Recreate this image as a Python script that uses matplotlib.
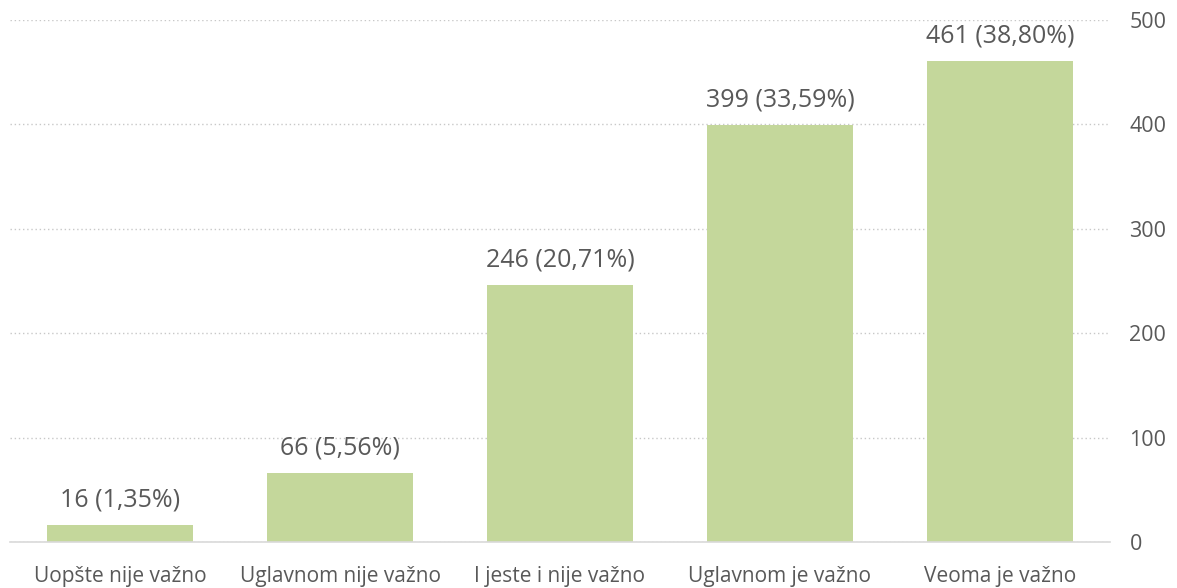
import matplotlib
matplotlib.use('Agg')
import matplotlib.pyplot as plt

categories = ['Uopšte nije važno', 'Uglavnom nije važno', 'I jeste i nije važno',
              'Uglavnom je važno', 'Veoma je važno']
counts = [16, 66, 246, 399, 461]
percents = ['1,35%', '5,56%', '20,71%', '33,59%', '38,80%']

plt.rcParams['font.family'] = ['Open Sans', 'DejaVu Sans']
text_col = '#595959'

fig = plt.figure(figsize=(11.77, 5.88), dpi=100)
ax = fig.add_axes([10 / 1177, 46 / 588, 1100 / 1177, 522 / 588])

x = range(len(categories))
bars = ax.bar(x, counts, width=0.664, color='#c4d79b', zorder=2)
for b, n, p in zip(bars, counts, percents):
    ax.annotate('{} ({})'.format(n, p), (b.get_x() + b.get_width() / 2, b.get_height()),
                xytext=(0, 9), textcoords='offset points', ha='center', va='bottom',
                fontsize=18, color=text_col)

ax.set_xlim(-0.5, len(categories) - 0.5)
ax.set_ylim(0, 500)
ax.set_yticks(range(0, 501, 100))
ax.yaxis.tick_right()
ax.tick_params(axis='y', length=0, pad=14, labelsize=15.5, labelcolor=text_col)
ax.set_xticks(list(x))
ax.set_xticklabels(categories)
ax.tick_params(axis='x', length=0, pad=17, labelsize=15, labelcolor=text_col)
ax.grid(axis='y', linestyle=(0, (1, 2)), color='#c8c8c8', linewidth=1, zorder=0)
for s in ['top', 'left', 'right']:
    ax.spines[s].set_visible(False)
ax.spines['bottom'].set_color('#d9d9d9')
ax.spines['bottom'].set_linewidth(1.2)
ax.spines['bottom'].set_zorder(3)

fig.savefig('out.png', dpi=100)
